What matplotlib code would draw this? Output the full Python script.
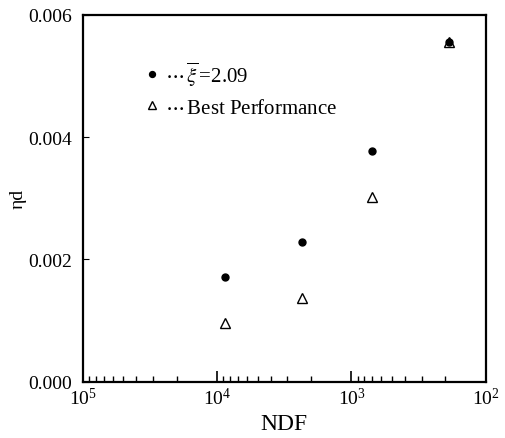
import matplotlib.pyplot as plt
import numpy as np

# --- Datos ---
ndf = [8770, 2350, 700, 188]
eta_xi = [0.00171, 0.00229, 0.00378, 0.00555]
eta_best = [0.00096, 0.00137, 0.00302, 0.00555]

plt.rcParams['font.family'] = ['Liberation Serif', 'DejaVu Serif']
plt.rcParams['mathtext.fontset'] = 'stix'

fig = plt.figure(figsize=(5.05, 4.39), dpi=100)
ax = fig.add_axes([0.164, 0.128, 0.798, 0.836])

ax.plot(ndf, eta_xi, 'o', color='black', markersize=5, ls='none',
        label=r'$\cdots\,\overline{\xi}\,$=2.09')
ax.plot(ndf, eta_best, '^', markerfacecolor='none', markeredgecolor='black',
        markersize=7, mew=1.0, ls='none', label=r'$\cdots\,$Best Performance')

ax.set_xscale('log')
ax.set_xlim(1e5, 1e2)
ax.set_ylim(0, 0.006)
ax.set_yticks([0.0, 0.002, 0.004, 0.006])
ax.set_yticklabels(['0.000', '0.002', '0.004', '0.006'])

ax.tick_params(axis='both', which='major', direction='in', labelsize=14,
               top=False, right=False)
ax.tick_params(axis='x', which='major', length=8, width=1.2)
ax.tick_params(axis='x', which='minor', direction='in', length=4, width=1.0,
               top=False)
ax.tick_params(axis='y', which='major', length=4, pad=8)
for s in ax.spines.values():
    s.set_linewidth(1.6)

ax.set_xlabel('NDF', fontsize=17)
ax.set_ylabel('ηd', fontsize=14)
ax.yaxis.set_label_coords(-0.14, 0.5)

ax.legend(loc='upper left', bbox_to_anchor=(0.11, 0.93), frameon=False,
          fontsize=15, handlelength=0.6, handletextpad=0.3, labelspacing=0.5,
          markerscale=0.85)

plt.savefig('out.png', dpi=100)
plt.close()
